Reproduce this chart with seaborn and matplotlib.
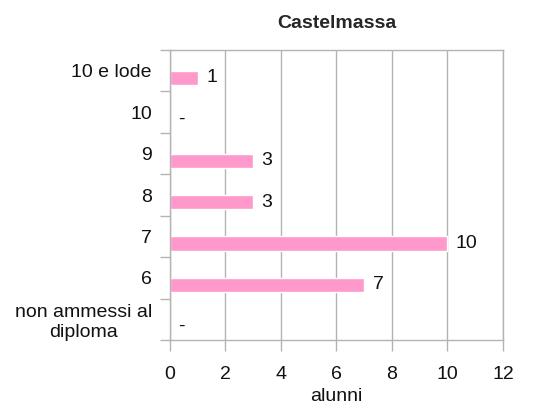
import pandas as pd
import matplotlib
matplotlib.use("Agg")
import matplotlib.pyplot as plt
import seaborn as sns

# Data
categories = ["10 e lode", "10", "9", "8", "7", "6", "non ammessi al\ndiploma"]
alunni = [1, 0, 3, 3, 10, 7, 0]
bar_labels = ["1", "-", "3", "3", "10", "7", "-"]
x_ticks = [0, 2, 4, 6, 8, 10, 12]

df = pd.DataFrame({"voto": categories, "alunni": alunni})

sns.set_style("white")
plt.rcParams["font.family"] = ["Liberation Sans", "DejaVu Sans"]

fs = 14
txt = "#111111"

fig = plt.figure(figsize=(5.44, 4.05), dpi=100)
ax = fig.add_axes([0.3125, 0.1605, 0.6121, 0.716])

sns.barplot(data=df, y="voto", x="alunni", orient="h", color="#ff99cc",
            saturation=1, width=0.34, ax=ax)

# bars sit a bit below the middle of each band, as in the original
for p in ax.patches:
    p.set_y(p.get_y() + 0.17)

ax.bar_label(ax.containers[0], labels=bar_labels, padding=6, fontsize=fs,
             color=txt)

ax.set_xlim(0, 12)
ax.set_ylim(len(categories) - 0.5, -0.5)
ax.set_xticks(x_ticks)
ax.set_xticklabels([str(t) for t in x_ticks], fontsize=fs, color=txt)

# category labels in the middle, tick marks on the band edges
ax.set_yticks([i - 0.5 for i in range(len(categories) + 1)])
ax.set_yticklabels([])
ax.set_yticks(range(len(categories)), minor=True)
ax.set_yticklabels(categories, minor=True, fontsize=fs, color=txt,
                   multialignment="center")
ax.tick_params(axis="y", which="minor", length=0, pad=13)
ax.tick_params(axis="y", which="major", length=7.5, width=1, color="#b3b3b3",
               left=True)
ax.tick_params(axis="x", length=8, width=1, color="#b3b3b3", pad=11,
               bottom=True)

ax.grid(axis="x", color="#b3b3b3", linewidth=1)
ax.set_axisbelow(True)
for s in ax.spines.values():
    s.set_visible(True)
    s.set_color("#b3b3b3")
    s.set_linewidth(1)

ax.set_ylabel("")
ax.set_xlabel("alunni", fontsize=fs, color=txt, labelpad=3)
ax.set_title("Castelmassa", fontsize=14, fontweight="bold", pad=16)

fig.savefig("out.png", dpi=100)
